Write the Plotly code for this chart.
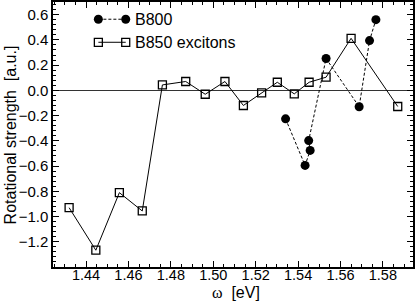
import plotly.graph_objects as go

# B850 excitons (open squares, solid line)
b850_x = [1.432, 1.4446, 1.4557, 1.4665, 1.476, 1.487, 1.4962, 1.5055, 1.5142,
          1.5228, 1.5302, 1.5382, 1.5452, 1.5532, 1.565, 1.587]
b850_y = [-0.93, -1.267, -0.811, -0.956, 0.043, 0.07, -0.031, 0.07, -0.12,
          -0.02, 0.064, -0.028, 0.064, 0.104, 0.412, -0.128]

# B800 (filled circles, dashed line)
b800_x = [1.5341, 1.5433, 1.5457, 1.5450, 1.5532, 1.5688, 1.5737, 1.5767]
b800_y = [-0.226, -0.595, -0.476, -0.398, 0.252, -0.13, 0.394, 0.56]

legend_names = ["B800", "B850 excitons"]
x_ticks = [1.44, 1.46, 1.48, 1.50, 1.52, 1.54, 1.56, 1.58]
y_ticks = [-1.2, -1.0, -0.8, -0.6, -0.4, -0.2, 0.0, 0.2, 0.4, 0.6]

FONT = "Liberation Sans, Arial, Helvetica, sans-serif"

fig = go.Figure()
fig.add_trace(go.Scatter(
    x=b850_x, y=b850_y, mode="lines+markers",
    line=dict(color="black", width=1),
    marker=dict(symbol="square-open", size=8, color="black", line=dict(width=1.3)),
    showlegend=False))
fig.add_trace(go.Scatter(
    x=b800_x, y=b800_y, mode="lines+markers",
    line=dict(color="black", width=1, dash="3px,2px"),
    marker=dict(symbol="circle", size=9, color="black"),
    showlegend=False))

# custom legend on overlay axes (0..1)
leg_y = [0.935, 0.848]
fig.add_trace(go.Scatter(
    x=[0.126, 0.202], y=[leg_y[0], leg_y[0]], xaxis="x2", yaxis="y2",
    mode="lines+markers", line=dict(color="black", width=1, dash="3px,2px"),
    marker=dict(symbol="circle", size=9, color="black"), showlegend=False,
    hoverinfo="skip"))
fig.add_trace(go.Scatter(
    x=[0.126, 0.202], y=[leg_y[1], leg_y[1]], xaxis="x2", yaxis="y2",
    mode="lines+markers", line=dict(color="black", width=1),
    marker=dict(symbol="square-open", size=8, color="black", line=dict(width=1.3)),
    showlegend=False, hoverinfo="skip"))
for name, yy in zip(legend_names, leg_y):
    fig.add_annotation(x=0.222, y=yy, xref="x2", yref="y2", text=name,
                       showarrow=False, xanchor="left", yanchor="middle",
                       font=dict(family=FONT, size=16, color="black"))

# axis titles as annotations
fig.add_annotation(x=0.508, y=-0.097, xref="paper", yref="paper",
                   text="<span style='font-family:Liberation Serif, serif'>ω</span>  [eV]",
                   showarrow=False, xanchor="center", yanchor="middle",
                   font=dict(family=FONT, size=16, color="black"))
fig.add_annotation(x=-0.117, y=0.5, xref="paper", yref="paper",
                   text="Rotational strength  [a.u.]", textangle=-90,
                   showarrow=False, xanchor="center", yanchor="middle",
                   font=dict(family=FONT, size=16, color="black"))

axis_common = dict(
    showline=True, linecolor="black", linewidth=1.5, mirror="allticks",
    ticks="inside", ticklen=6, tickwidth=1.2, tickcolor="black",
    showgrid=False, automargin=False,
)

fig.update_layout(
    width=415, height=306,
    margin=dict(l=53, r=2, t=2, b=39),
    paper_bgcolor="white", plot_bgcolor="white",
    xaxis=dict(range=[1.4244, 1.5942], tickvals=x_ticks, tickformat=".2f",
               zeroline=False, ticklabelstandoff=-6,
               tickfont=dict(family=FONT, size=14.5, color="black"),
               minor=dict(dtick=0.005, tick0=1.44, ticks="inside", ticklen=3,
                          tickcolor="black", tickwidth=1),
               **axis_common),
    yaxis=dict(range=[-1.4, 0.7], tickvals=y_ticks, tickformat=".1f",
               zeroline=True, zerolinecolor="#333", zerolinewidth=1,
               tickfont=dict(family=FONT, size=15, color="black"),
               minor=dict(dtick=0.04, tick0=0, ticks="inside", ticklen=3,
                          tickcolor="black", tickwidth=1),
               **axis_common),
    xaxis2=dict(range=[0, 1], overlaying="x", visible=False, fixedrange=True),
    yaxis2=dict(range=[0, 1], overlaying="y", visible=False, fixedrange=True),
    font=dict(family=FONT, color="black"),
)

fig.write_html("out.html", config={"displayModeBar": False},
               post_script="document.body.style.margin='0';document.body.style.overflow='hidden';")
